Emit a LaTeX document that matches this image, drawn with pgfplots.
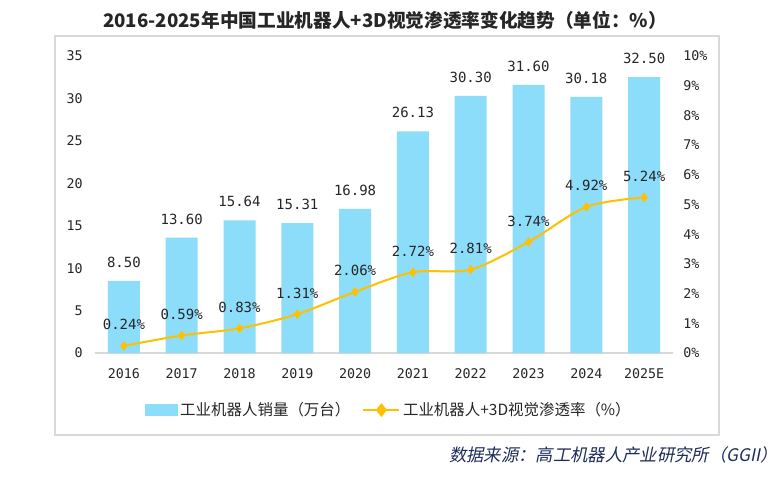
\documentclass[border=0pt]{standalone}
\usepackage{fontspec}
\usepackage{pgfplots}
\pgfplotsset{compat=1.18}
\setmainfont{Noto Sans CJK SC}
\setmonofont{DejaVu Sans Mono}
\newfontfamily\srcfont[FakeSlant=0.2]{Noto Sans CJK SC}
\definecolor{barblue}{HTML}{8CDDFA}
\definecolor{gold}{HTML}{FFC000}
\definecolor{framegray}{HTML}{D9D9D9}
\definecolor{txt}{HTML}{262626}
\definecolor{navy}{HTML}{1F2D5A}
\begin{document}
\begin{tikzpicture}
\useasboundingbox (0pt,0pt) rectangle (585pt,-359.25pt);
\fill[white] (0pt,0pt) rectangle (585pt,-359.25pt);
\draw[framegray, line width=0.9pt] (41.25pt,-27pt) rectangle (539.25pt,-326.25pt);
\node[font=\bfseries\fontsize{14pt}{16pt}\selectfont, text=txt] at (288.75pt,-15pt) {2016-2025年中国工业机器人+3D视觉渗透率变化趋势（单位：\%）};
\node[font=\srcfont\fontsize{13pt}{15pt}\selectfont, text=navy, anchor=east, inner sep=0pt] at (583.5pt,-341.25pt) {数据来源：高工机器人产业研究所（GGII）};

\begin{axis}[
  at={(71.25pt,-264.75pt)}, anchor=south west,
  scale only axis, width=433.5pt, height=222.75pt,
  xmin=-0.5, xmax=9.5, ymin=0, ymax=35,
  axis x line*=bottom, axis y line*=left,
  x axis line style={draw=framegray, line width=0.9pt, -},
  y axis line style={draw=none},
  major tick length=0pt,
  xtick={0,...,9},
  xticklabels={2016,2017,2018,2019,2020,2021,2022,2023,2024,2025E},
  ytick={0,5,...,35},
  yticklabels={0,5,10,15,20,25,30,35},
  ticklabel style={font=\ttfamily\fontsize{10pt}{12pt}\selectfont, text=txt},
  xticklabel style={anchor=center, inner sep=0pt, yshift=-15.75pt},
  yticklabel style={anchor=east, inner sep=0pt, xshift=-9pt},
  clip=false,
]
\addplot[ybar, bar width=24pt, fill=barblue, draw=none,
  nodes near coords, point meta=explicit symbolic,
  nodes near coords style={font=\ttfamily\fontsize{10.5pt}{12pt}\selectfont, text=txt, anchor=center, yshift=13.9pt}]
coordinates {
(0,8.50) [8.50]
(1,13.60) [13.60]
(2,15.64) [15.64]
(3,15.31) [15.31]
(4,16.98) [16.98]
(5,26.13) [26.13]
(6,30.30) [30.30]
(7,31.60) [31.60]
(8,30.18) [30.18]
(9,32.50) [32.50]
};
\end{axis}

\begin{axis}[
  at={(71.25pt,-264.75pt)}, anchor=south west,
  scale only axis, width=433.5pt, height=222.75pt,
  xmin=-0.5, xmax=9.5, ymin=0, ymax=10,
  axis x line=none, axis y line*=right,
  y axis line style={draw=none},
  major tick length=0pt,
  xtick=\empty,
  ytick={0,1,...,10},
  yticklabels={0\%,1\%,2\%,3\%,4\%,5\%,6\%,7\%,8\%,9\%,10\%},
  ticklabel style={font=\ttfamily\fontsize{10pt}{12pt}\selectfont, text=txt},
  yticklabel style={anchor=west, inner sep=0pt, xshift=7.5pt},
  clip=false,
  legend columns=2,
  legend style={at={(0.509,-0.192)}, anchor=center, draw=none, fill=none,
    font=\fontsize{11.6pt}{13pt}\selectfont, text=txt,
    /tikz/every even column/.append style={column sep=7pt},
    inner sep=0pt},
]
\addlegendimage{legend image code/.code={\fill[barblue] (0pt,-4pt) rectangle (24pt,4pt);}}
\addlegendentry{工业机器人销量（万台）}
\addplot[color=gold, line width=1.5pt, smooth, mark=diamond*, mark size=3.2pt,
  mark options={fill=gold, draw=gold, line width=0.5pt},
  nodes near coords, point meta=explicit symbolic,
  nodes near coords style={font=\ttfamily\fontsize{10.5pt}{12pt}\selectfont, text=txt, anchor=center, yshift=15.75pt},
  legend image code/.code={\draw[gold, line width=1.5pt] (0pt,0pt) -- (27pt,0pt);
     \fill[gold] (13.5pt,4pt) -- (16.7pt,0pt) -- (13.5pt,-4pt) -- (10.3pt,0pt) -- cycle;}]
coordinates {
(0,0.24) [0.24\%]
(1,0.59) [0.59\%]
(2,0.83) [0.83\%]
(3,1.31) [1.31\%]
(4,2.06) [2.06\%]
(5,2.72) [2.72\%]
(6,2.81) [2.81\%]
(7,3.74) [3.74\%]
(8,4.92) [4.92\%]
(9,5.24) [5.24\%]
};
\addlegendentry{工业机器人+3D视觉渗透率（\%）}
\end{axis}
\end{tikzpicture}
\end{document}
